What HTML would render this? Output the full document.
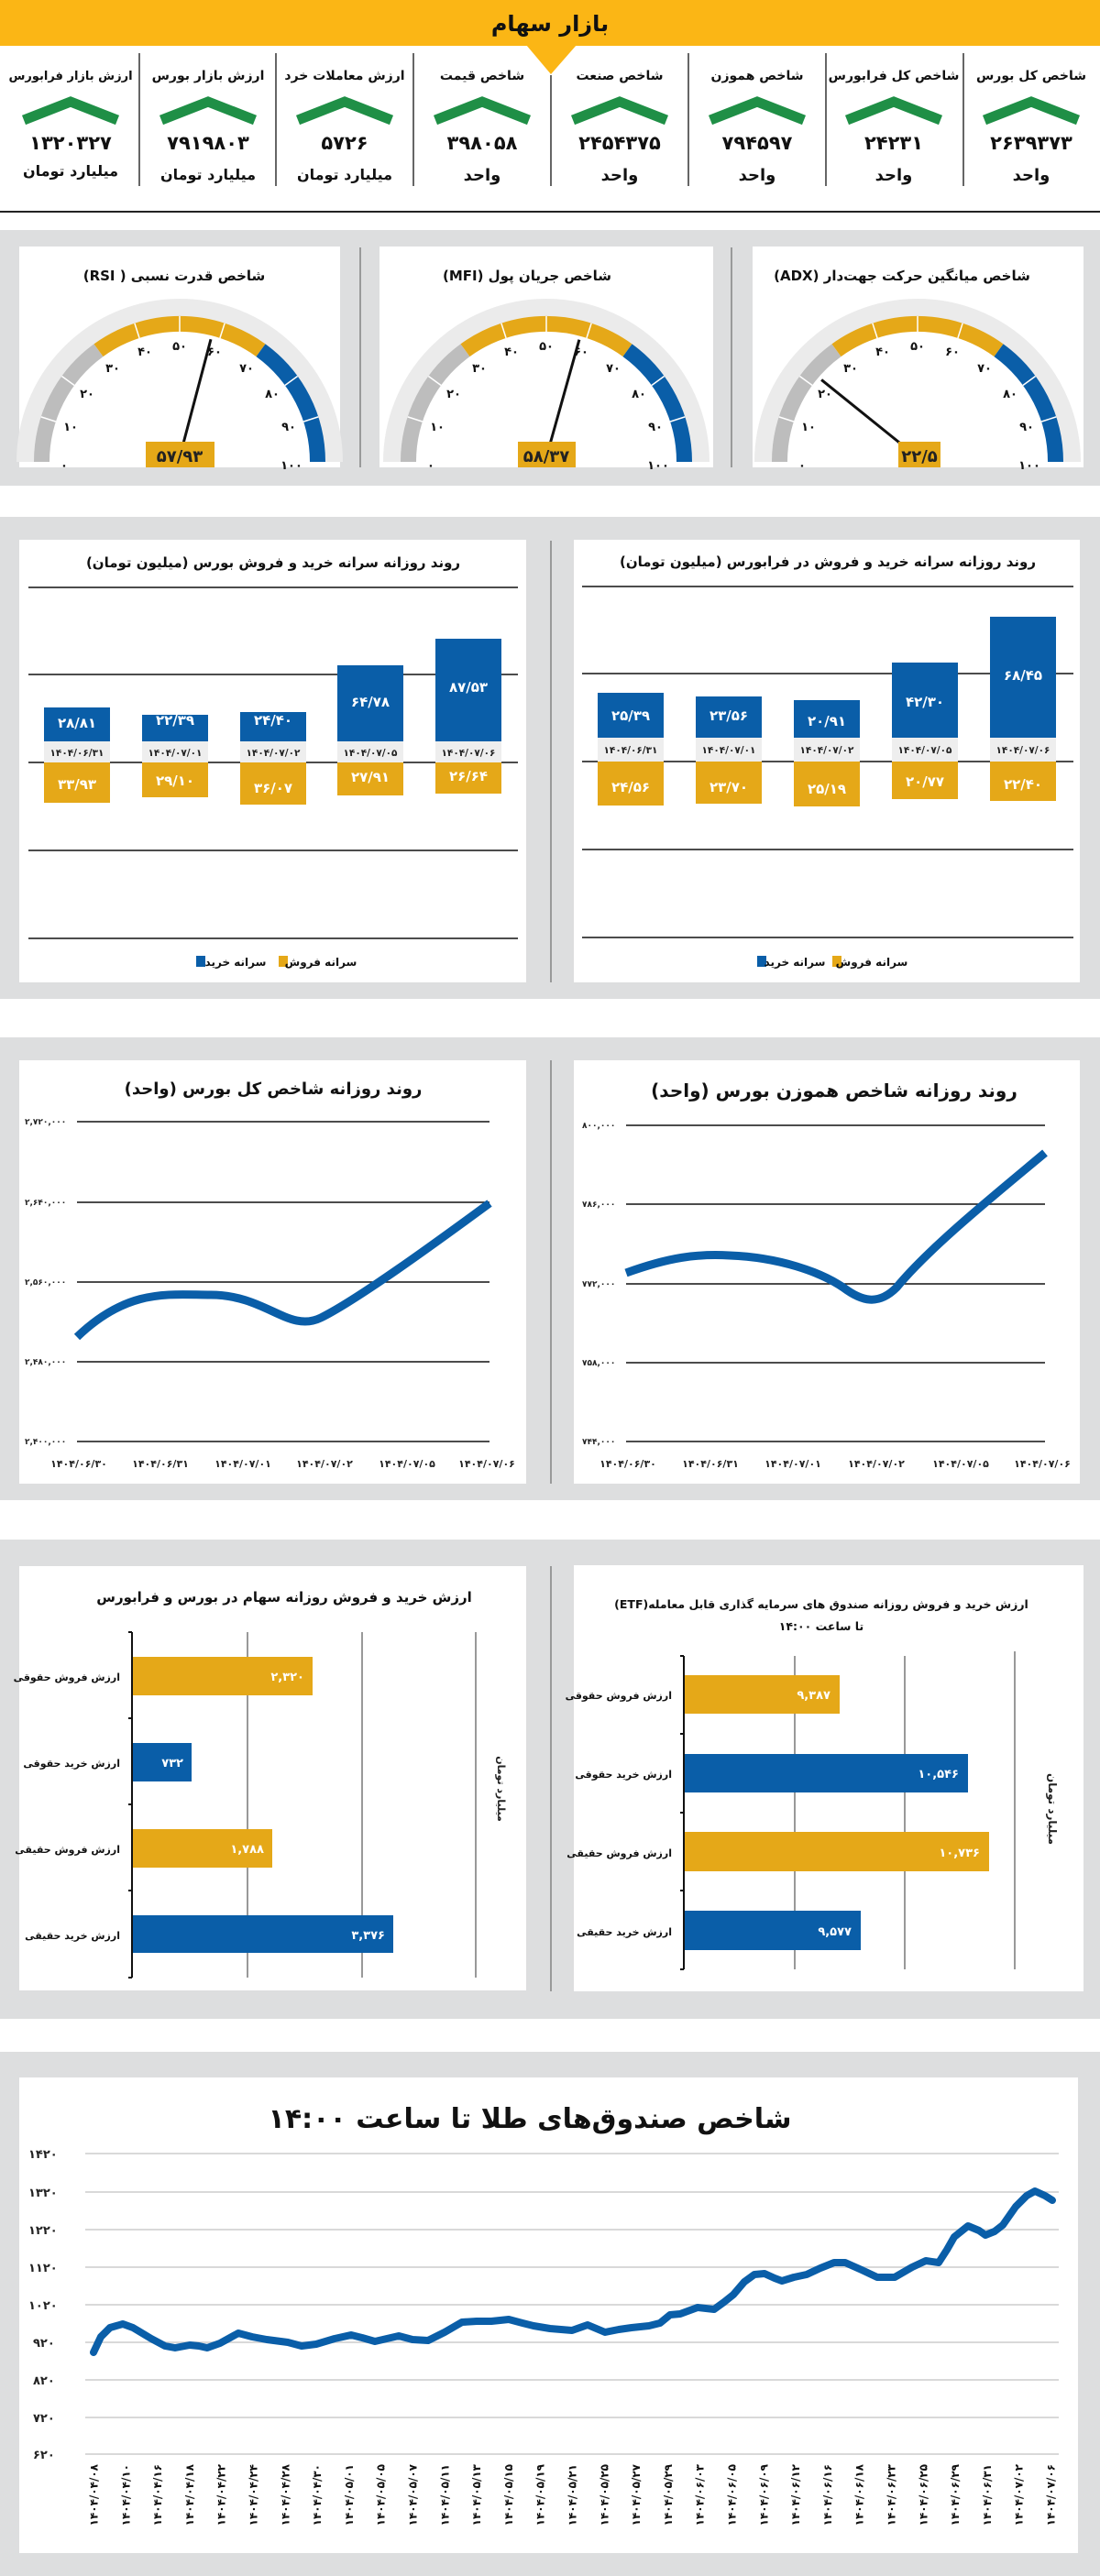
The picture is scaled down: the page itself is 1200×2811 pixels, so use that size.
<!DOCTYPE html>
<html><head><meta charset="utf-8">
<style>
html,body{margin:0;padding:0;background:#fff;}
svg{display:block;}
text{font-family:"DejaVu Sans","Liberation Sans",sans-serif;font-weight:bold;}
</style></head><body>
<svg width="1200" height="2811" viewBox="0 0 1200 2811" xmlns="http://www.w3.org/2000/svg">
<rect x="0" y="0" width="1200" height="50" fill="#fbb615"/>
<polygon points="574,49 629,49 601,81" fill="#fbb615"/>
<text x="600" y="34" font-size="24" text-anchor="middle" direction="rtl" fill="#111">بازار سهام</text>

<g stroke="#333" stroke-width="1.5">
<line x1="152" y1="58" x2="152" y2="203"/><line x1="301" y1="58" x2="301" y2="203"/><line x1="451" y1="58" x2="451" y2="203"/><line x1="601" y1="82" x2="601" y2="203"/><line x1="751" y1="58" x2="751" y2="203"/><line x1="901" y1="58" x2="901" y2="203"/><line x1="1051" y1="58" x2="1051" y2="203"/>
</g>
<line x1="0" y1="231" x2="1200" y2="231" stroke="#222" stroke-width="2"/>
<g font-size="14" text-anchor="middle" direction="rtl" fill="#111">
<text x="1125" y="87">شاخص کل بورس</text>
<text x="975" y="87">شاخص کل فرابورس</text>
<text x="826" y="87">شاخص هموزن</text>
<text x="676" y="87">شاخص صنعت</text>
<text x="526" y="87">شاخص قیمت</text>
<text x="376" y="87">ارزش معاملات خرد</text>
<text x="227" y="87">ارزش بازار بورس</text>
<text x="77" y="87" font-size="13">ارزش بازار فرابورس</text>
</g>
<g fill="none" stroke="#1f8f46" stroke-width="11" stroke-linejoin="miter">
<polyline points="1074,131 1125,111 1176,131"/>
<polyline points="924,131 975,111 1026,131"/>
<polyline points="775,131 826,111 877,131"/>
<polyline points="625,131 676,111 727,131"/>
<polyline points="475,131 526,111 577,131"/>
<polyline points="325,131 376,111 427,131"/>
<polyline points="176,131 227,111 278,131"/>
<polyline points="26,131 77,111 128,131"/>
</g>
<g font-size="21" text-anchor="middle" fill="#111">
<text x="1125" y="163">۲۶۳۹۳۷۳</text>
<text x="975" y="163">۲۴۲۳۱</text>
<text x="826" y="163">۷۹۴۵۹۷</text>
<text x="676" y="163">۲۴۵۴۳۷۵</text>
<text x="526" y="163">۳۹۸۰۵۸</text>
<text x="376" y="163">۵۷۲۶</text>
<text x="227" y="163">۷۹۱۹۸۰۳</text>
<text x="77" y="163">۱۳۲۰۳۲۷</text>
</g>
<g font-size="18" text-anchor="middle" direction="rtl" fill="#111">
<text x="1125" y="197">واحد</text>
<text x="975" y="197">واحد</text>
<text x="826" y="197">واحد</text>
<text x="676" y="197">واحد</text>
<text x="526" y="197">واحد</text>
<text x="376" y="196" font-size="16">میلیارد تومان</text>
<text x="227" y="196" font-size="16">میلیارد تومان</text>
<text x="77" y="192" font-size="16">میلیارد تومان</text>
</g>

<rect x="0" y="251" width="1200" height="279" fill="#dddedf"/>
<rect x="21" y="269" width="350" height="241" fill="#fff"/>
<rect x="414" y="269" width="364" height="241" fill="#fff"/>
<rect x="821" y="269" width="361" height="241" fill="#fff"/>
<line x1="393" y1="270" x2="393" y2="510" stroke="#555" stroke-width="1"/>
<line x1="798" y1="270" x2="798" y2="510" stroke="#555" stroke-width="1"/>
<g font-size="15" text-anchor="middle" direction="rtl" fill="#111">
<text x="190" y="306">شاخص قدرت نسبی ( RSI)</text>
<text x="575" y="306">شاخص جریان پول (MFI)</text>
<text x="984" y="306">شاخص میانگین حرکت جهت‌دار (ADX)</text>
</g>

<defs>
<g id="gauge">
<path d="M-168,0 A168,168 0 0 1 168,0" fill="none" stroke="#ebebeb" stroke-width="20"/>
<path d="M-150.5,0 A150.5,150.5 0 0 1 -88.5,-121.8" fill="none" stroke="#bdbdbd" stroke-width="17"/>
<path d="M-88.5,-121.8 A150.5,150.5 0 0 1 88.5,-121.8" fill="none" stroke="#e5a818" stroke-width="17"/>
<path d="M88.5,-121.8 A150.5,150.5 0 0 1 150.5,0" fill="none" stroke="#0a5ea8" stroke-width="17"/>
<g stroke="#fff" stroke-width="1.5">
<line x1="-135" y1="-43.9" x2="-151.2" y2="-49.1"/>
<line x1="-114.9" y1="-83.5" x2="-128.6" y2="-93.5"/>
<line x1="-43.9" y1="-135" x2="-49.1" y2="-151.2"/>
<line x1="0" y1="-142" x2="0" y2="-159"/>
<line x1="43.9" y1="-135" x2="49.1" y2="-151.2"/>
<line x1="114.9" y1="-83.5" x2="128.6" y2="-93.5"/>
<line x1="135" y1="-43.9" x2="151.2" y2="-49.1"/>
</g>
<g font-size="13" text-anchor="middle" fill="#111">
<text x="-126" y="8">۰</text>
<text x="-119" y="-34">۱۰</text>
<text x="-101" y="-70">۲۰</text>
<text x="-73" y="-98">۳۰</text>
<text x="-38" y="-116">۴۰</text>
<text x="0" y="-122">۵۰</text>
<text x="38" y="-116">۶۰</text>
<text x="73" y="-98">۷۰</text>
<text x="101" y="-70">۸۰</text>
<text x="119" y="-34">۹۰</text>
<text x="122" y="8">۱۰۰</text>
</g>
</g>
</defs>
<g transform="translate(196,504)">
<use href="#gauge"/>
<line x1="0" y1="-5" x2="34" y2="-133.7" stroke="#111" stroke-width="3"/>
<rect x="-37" y="-22" width="75" height="28" fill="#e5a818"/>
<text x="0" y="0" font-size="18" text-anchor="middle" fill="#222">۵۷/۹۳</text>
</g>
<g transform="translate(596,504)">
<use href="#gauge"/>
<line x1="0" y1="-5" x2="35.9" y2="-133.3" stroke="#111" stroke-width="3"/>
<rect x="-31" y="-22" width="63" height="28" fill="#e5a818"/>
<text x="0" y="0" font-size="18" text-anchor="middle" fill="#222">۵۸/۳۷</text>
</g>
<g transform="translate(1001,504)">
<use href="#gauge"/>
<line x1="0" y1="-5" x2="-104.9" y2="-89.6" stroke="#111" stroke-width="3"/>
<rect x="-21" y="-22" width="46" height="28" fill="#e5a818"/>
<text x="2" y="0" font-size="18" text-anchor="middle" fill="#222">۲۲/۵</text>
</g>

<rect x="0" y="564" width="1200" height="526" fill="#dddedf"/>
<rect x="21" y="589" width="553" height="483" fill="#fff"/>
<rect x="626" y="589" width="552" height="483" fill="#fff"/>
<line x1="601" y1="590" x2="601" y2="1072" stroke="#555" stroke-width="1"/>
<g font-size="15" text-anchor="middle" direction="rtl" fill="#111">
<text x="298" y="619">روند روزانه سرانه خرید و فروش بورس (میلیون تومان)</text>
<text x="903" y="618">روند روزانه سرانه خرید و فروش در فرابورس (میلیون تومان)</text>
</g>
<g stroke="#111" stroke-width="1.5">
<line x1="31" y1="641" x2="565" y2="641"/><line x1="31" y1="736" x2="565" y2="736"/><line x1="31" y1="832" x2="565" y2="832"/><line x1="31" y1="928" x2="565" y2="928"/><line x1="31" y1="1024" x2="565" y2="1024"/>
<line x1="635" y1="640" x2="1171" y2="640"/><line x1="635" y1="735" x2="1171" y2="735"/><line x1="635" y1="831" x2="1171" y2="831"/><line x1="635" y1="927" x2="1171" y2="927"/><line x1="635" y1="1023" x2="1171" y2="1023"/>
</g>
<g fill="#eeeeee">
<rect x="48" y="809" width="72" height="23"/><rect x="155" y="809" width="72" height="23"/><rect x="262" y="809" width="72" height="23"/><rect x="368" y="809" width="72" height="23"/><rect x="475" y="809" width="72" height="23"/>
<rect x="652" y="805" width="72" height="26"/><rect x="759" y="805" width="72" height="26"/><rect x="866" y="805" width="72" height="26"/><rect x="973" y="805" width="72" height="26"/><rect x="1080" y="805" width="72" height="26"/>
</g>
<g fill="#0a5ea8">
<rect x="48" y="772" width="72" height="37"/><rect x="155" y="780" width="72" height="29"/><rect x="262" y="777" width="72" height="32"/><rect x="368" y="726" width="72" height="83"/><rect x="475" y="697" width="72" height="112"/>
<rect x="652" y="756" width="72" height="49"/><rect x="759" y="760" width="72" height="45"/><rect x="866" y="764" width="72" height="41"/><rect x="973" y="723" width="72" height="82"/><rect x="1080" y="673" width="72" height="132"/>
</g>
<g fill="#e5a818">
<rect x="48" y="832" width="72" height="44"/><rect x="155" y="832" width="72" height="38"/><rect x="262" y="832" width="72" height="46"/><rect x="368" y="832" width="72" height="36"/><rect x="475" y="832" width="72" height="34"/>
<rect x="652" y="831" width="72" height="48"/><rect x="759" y="831" width="72" height="46"/><rect x="866" y="831" width="72" height="49"/><rect x="973" y="831" width="72" height="41"/><rect x="1080" y="831" width="72" height="43"/>
</g>
<g font-size="15" text-anchor="middle" fill="#fff" direction="ltr">
<text x="84" y="794">۲۸/۸۱</text><text x="191" y="791">۲۲/۳۹</text><text x="298" y="791">۲۴/۴۰</text><text x="404" y="771">۶۴/۷۸</text><text x="511" y="755">۸۷/۵۳</text>
<text x="84" y="861">۳۳/۹۳</text><text x="191" y="857">۲۹/۱۰</text><text x="298" y="865">۳۶/۰۷</text><text x="404" y="853">۲۷/۹۱</text><text x="511" y="852">۲۶/۶۴</text>
<text x="688" y="786">۲۵/۳۹</text><text x="795" y="786">۲۳/۵۶</text><text x="902" y="792">۲۰/۹۱</text><text x="1009" y="771">۴۲/۳۰</text><text x="1116" y="742">۶۸/۴۵</text>
<text x="688" y="864">۲۴/۵۶</text><text x="795" y="864">۲۳/۷۰</text><text x="902" y="866">۲۵/۱۹</text><text x="1009" y="858">۲۰/۷۷</text><text x="1116" y="861">۲۲/۴۰</text>
</g>
<g font-size="10.5" text-anchor="middle" fill="#222" direction="ltr">
<text x="84" y="825">۱۴۰۴/۰۶/۳۱</text><text x="191" y="825">۱۴۰۴/۰۷/۰۱</text><text x="298" y="825">۱۴۰۴/۰۷/۰۲</text><text x="404" y="825">۱۴۰۴/۰۷/۰۵</text><text x="511" y="825">۱۴۰۴/۰۷/۰۶</text>
<text x="688" y="822">۱۴۰۴/۰۶/۳۱</text><text x="795" y="822">۱۴۰۴/۰۷/۰۱</text><text x="902" y="822">۱۴۰۴/۰۷/۰۲</text><text x="1009" y="822">۱۴۰۴/۰۷/۰۵</text><text x="1116" y="822">۱۴۰۴/۰۷/۰۶</text>
</g>
<rect x="214" y="1043" width="10" height="12" fill="#0a5ea8"/><rect x="304" y="1043" width="10" height="12" fill="#e5a818"/>
<rect x="826" y="1043" width="10" height="12" fill="#0a5ea8"/><rect x="908" y="1043" width="10" height="12" fill="#e5a818"/>
<g font-size="12" direction="rtl" fill="#111" text-anchor="middle">
<text x="257" y="1054">سرانه خرید</text><text x="350" y="1054">سرانه فروش</text>
<text x="867" y="1054">سرانه خرید</text><text x="951" y="1054">سرانه فروش</text>
</g>

<rect x="0" y="1132" width="1200" height="505" fill="#dddedf"/>
<rect x="21" y="1157" width="553" height="462" fill="#fff"/>
<rect x="626" y="1157" width="552" height="462" fill="#fff"/>
<line x1="601" y1="1157" x2="601" y2="1619" stroke="#555" stroke-width="1"/>
<text x="298" y="1194" font-size="18" text-anchor="middle" direction="rtl" fill="#111">روند روزانه شاخص کل بورس (واحد)</text>
<text x="910" y="1197" font-size="20" text-anchor="middle" direction="rtl" fill="#111">روند روزانه شاخص هموزن بورس (واحد)</text>
<g stroke="#111" stroke-width="1.5">
<line x1="84" y1="1224" x2="534" y2="1224"/><line x1="84" y1="1312" x2="534" y2="1312"/><line x1="84" y1="1399" x2="534" y2="1399"/><line x1="84" y1="1486" x2="534" y2="1486"/><line x1="84" y1="1573" x2="534" y2="1573"/>
<line x1="683" y1="1228" x2="1140" y2="1228"/><line x1="683" y1="1314" x2="1140" y2="1314"/><line x1="683" y1="1401" x2="1140" y2="1401"/><line x1="683" y1="1487" x2="1140" y2="1487"/><line x1="683" y1="1573" x2="1140" y2="1573"/>
</g>
<g font-size="9" fill="#222" direction="ltr">
<text x="27" y="1227">۲,۷۲۰,۰۰۰</text><text x="27" y="1315">۲,۶۴۰,۰۰۰</text><text x="27" y="1402">۲,۵۶۰,۰۰۰</text><text x="27" y="1489">۲,۴۸۰,۰۰۰</text><text x="27" y="1576">۲,۴۰۰,۰۰۰</text>
<text x="635" y="1231">۸۰۰,۰۰۰</text><text x="635" y="1317">۷۸۶,۰۰۰</text><text x="635" y="1404">۷۷۲,۰۰۰</text><text x="635" y="1490">۷۵۸,۰۰۰</text><text x="635" y="1576">۷۴۴,۰۰۰</text>
</g>
<g font-size="11" text-anchor="middle" fill="#222" direction="ltr">
<text x="86" y="1601">۱۴۰۴/۰۶/۳۰</text><text x="175" y="1601">۱۴۰۴/۰۶/۳۱</text><text x="265" y="1601">۱۴۰۴/۰۷/۰۱</text><text x="354" y="1601">۱۴۰۴/۰۷/۰۲</text><text x="444" y="1601">۱۴۰۴/۰۷/۰۵</text><text x="531" y="1601">۱۴۰۴/۰۷/۰۶</text>
<text x="685" y="1601">۱۴۰۴/۰۶/۳۰</text><text x="775" y="1601">۱۴۰۴/۰۶/۳۱</text><text x="865" y="1601">۱۴۰۴/۰۷/۰۱</text><text x="956" y="1601">۱۴۰۴/۰۷/۰۲</text><text x="1048" y="1601">۱۴۰۴/۰۷/۰۵</text><text x="1137" y="1601">۱۴۰۴/۰۷/۰۶</text>
</g>
<path d="M84,1459 C140,1405 185,1413 230,1413 C290,1413 315,1455 350,1438 C390,1418 470,1360 534,1313" fill="none" stroke="#0a5ea8" stroke-width="9"/>
<path d="M683,1389 C730,1372 760,1368 796,1370 C850,1372 895,1388 920,1405 C940,1420 958,1425 978,1405 C1015,1360 1090,1300 1140,1258" fill="none" stroke="#0a5ea8" stroke-width="9"/>

<rect x="0" y="1680" width="1200" height="523" fill="#dddedf"/>
<rect x="21" y="1709" width="553" height="463" fill="#fff"/>
<rect x="626" y="1708" width="556" height="465" fill="#fff"/>
<line x1="601" y1="1709" x2="601" y2="2173" stroke="#555" stroke-width="1"/>
<text x="310" y="1748" font-size="15" text-anchor="middle" direction="rtl" fill="#111">ارزش خرید و فروش روزانه سهام در بورس و فرابورس</text>
<text x="896" y="1755" font-size="12.5" text-anchor="middle" direction="rtl" fill="#111">ارزش خرید و فروش روزانه صندوق های سرمایه گذاری قابل معامله(ETF)</text>
<text x="896" y="1779" font-size="12.5" text-anchor="middle" direction="rtl" fill="#111">تا ساعت ۱۴:۰۰</text>
<g stroke="#333" stroke-width="1">
<line x1="270" y1="1781" x2="270" y2="2158"/><line x1="395" y1="1781" x2="395" y2="2158"/><line x1="519" y1="1781" x2="519" y2="2158"/>
<line x1="867" y1="1807" x2="867" y2="2149"/><line x1="987" y1="1807" x2="987" y2="2149"/><line x1="1107" y1="1802" x2="1107" y2="2149"/>
</g>
<g stroke="#111" stroke-width="2">
<line x1="144" y1="1781" x2="144" y2="2158"/>
<line x1="140" y1="1781" x2="144" y2="1781"/><line x1="140" y1="1875" x2="144" y2="1875"/><line x1="140" y1="1969" x2="144" y2="1969"/><line x1="140" y1="2063" x2="144" y2="2063"/><line x1="140" y1="2158" x2="144" y2="2158"/>
<line x1="746" y1="1807" x2="746" y2="2149"/>
<line x1="742" y1="1807" x2="746" y2="1807"/><line x1="742" y1="1892" x2="746" y2="1892"/><line x1="742" y1="1978" x2="746" y2="1978"/><line x1="742" y1="2063" x2="746" y2="2063"/><line x1="742" y1="2149" x2="746" y2="2149"/>
</g>
<rect x="145" y="1808" width="196" height="42" fill="#e5a818"/>
<rect x="145" y="1902" width="64" height="42" fill="#0a5ea8"/>
<rect x="145" y="1996" width="152" height="42" fill="#e5a818"/>
<rect x="145" y="2090" width="284" height="41" fill="#0a5ea8"/>
<rect x="747" y="1828" width="169" height="42" fill="#e5a818"/>
<rect x="747" y="1914" width="309" height="42" fill="#0a5ea8"/>
<rect x="747" y="1999" width="332" height="43" fill="#e5a818"/>
<rect x="747" y="2085" width="192" height="43" fill="#0a5ea8"/>
<g font-size="13" text-anchor="end" fill="#fff">
<text x="332" y="1834">۲,۳۲۰</text><text x="200" y="1928">۷۳۲</text><text x="288" y="2022">۱,۷۸۸</text><text x="420" y="2116">۳,۳۷۶</text>
<text x="906" y="1854">۹,۳۸۷</text><text x="1046" y="1940">۱۰,۵۴۶</text><text x="1069" y="2026">۱۰,۷۳۶</text><text x="929" y="2112">۹,۵۷۷</text>
</g>
<g font-size="11" text-anchor="end" fill="#111">
<text x="131" y="1834">ارزش فروش حقوقی</text><text x="131" y="1928">ارزش خرید حقوقی</text><text x="131" y="2022">ارزش فروش حقیقی</text><text x="131" y="2116">ارزش خرید حقیقی</text>
</g>
<g font-size="11" text-anchor="end" fill="#111">
<text x="733" y="1854">ارزش فروش حقوقی</text><text x="733" y="1940">ارزش خرید حقوقی</text><text x="733" y="2026">ارزش فروش حقیقی</text><text x="733" y="2112">ارزش خرید حقیقی</text>
</g>
<text transform="translate(543,1952) rotate(90)" font-size="11" text-anchor="middle" fill="#222">میلیارد تومان</text>
<text transform="translate(1144,1974) rotate(90)" font-size="12" text-anchor="middle" fill="#222">میلیارد تومان</text>

<rect x="0" y="2239" width="1200" height="572" fill="#dddedf"/>
<rect x="21" y="2267" width="1155" height="519" fill="#fff"/>
<text x="578" y="2322" font-size="30" text-anchor="middle" direction="rtl" fill="#111">شاخص صندوق‌های طلا تا ساعت ۱۴:۰۰</text>
<g stroke="#d9d9d9" stroke-width="2">
<line x1="93" y1="2350" x2="1155" y2="2350"/><line x1="93" y1="2392" x2="1155" y2="2392"/><line x1="93" y1="2433" x2="1155" y2="2433"/><line x1="93" y1="2474" x2="1155" y2="2474"/><line x1="93" y1="2515" x2="1155" y2="2515"/><line x1="93" y1="2556" x2="1155" y2="2556"/><line x1="93" y1="2597" x2="1155" y2="2597"/><line x1="93" y1="2638" x2="1155" y2="2638"/><line x1="93" y1="2678" x2="1155" y2="2678"/>
</g>
<g font-size="13" fill="#222" direction="ltr">
<text x="31" y="2355">۱۴۲۰</text><text x="31" y="2397">۱۳۲۰</text><text x="31" y="2438">۱۲۲۰</text><text x="31" y="2479">۱۱۲۰</text><text x="31" y="2520">۱۰۲۰</text><text x="36" y="2561">۹۲۰</text><text x="36" y="2602">۸۲۰</text><text x="36" y="2643">۷۲۰</text><text x="36" y="2683">۶۲۰</text>
</g>
<polyline points="102,2567 110,2550 120,2540 134,2536 145,2540 165,2552 180,2560 191,2562 207,2559 217,2560 226,2562 240,2557 260,2546 275,2550 291,2553 314,2556 329,2560 345,2558 365,2552 383,2548 395,2551 409,2555 422,2552 435,2549 450,2553 467,2554 485,2545 504,2534 520,2533 536,2533 555,2531 570,2535 582,2538 600,2541 624,2543 641,2537 660,2545 675,2542 689,2540 708,2538 720,2535 731,2526 742,2525 761,2518 779,2520 790,2512 800,2504 812,2490 823,2482 834,2481 845,2486 853,2489 866,2485 880,2482 895,2475 910,2469 922,2469 940,2477 957,2485 976,2485 995,2474 1010,2467 1024,2469 1033,2455 1041,2441 1056,2429 1068,2434 1075,2439 1085,2435 1094,2428 1108,2408 1120,2396 1129,2391 1140,2396 1148,2401" fill="none" stroke="#0a5ea8" stroke-width="8" stroke-linejoin="round" stroke-linecap="round"/>
<g font-size="12" text-anchor="end" fill="#111" direction="ltr">
<text transform="translate(103,2689) rotate(-90)" dominant-baseline="middle">۱۴۰۴/۰۴/۰۸</text>
<text transform="translate(137.8,2689) rotate(-90)" dominant-baseline="middle">۱۴۰۴/۰۴/۱۰</text>
<text transform="translate(172.6,2689) rotate(-90)" dominant-baseline="middle">۱۴۰۴/۰۴/۱۶</text>
<text transform="translate(207.4,2689) rotate(-90)" dominant-baseline="middle">۱۴۰۴/۰۴/۱۸</text>
<text transform="translate(242.2,2689) rotate(-90)" dominant-baseline="middle">۱۴۰۴/۰۴/۲۲</text>
<text transform="translate(277,2689) rotate(-90)" dominant-baseline="middle">۱۴۰۴/۰۴/۲۴</text>
<text transform="translate(311.8,2689) rotate(-90)" dominant-baseline="middle">۱۴۰۴/۰۴/۲۸</text>
<text transform="translate(346.6,2689) rotate(-90)" dominant-baseline="middle">۱۴۰۴/۰۴/۳۰</text>
<text transform="translate(381.4,2689) rotate(-90)" dominant-baseline="middle">۱۴۰۴/۰۵/۰۱</text>
<text transform="translate(416.2,2689) rotate(-90)" dominant-baseline="middle">۱۴۰۴/۰۵/۰۵</text>
<text transform="translate(451,2689) rotate(-90)" dominant-baseline="middle">۱۴۰۴/۰۵/۰۷</text>
<text transform="translate(485.8,2689) rotate(-90)" dominant-baseline="middle">۱۴۰۴/۰۵/۱۱</text>
<text transform="translate(520.6,2689) rotate(-90)" dominant-baseline="middle">۱۴۰۴/۰۵/۱۳</text>
<text transform="translate(555.4,2689) rotate(-90)" dominant-baseline="middle">۱۴۰۴/۰۵/۱۵</text>
<text transform="translate(590.2,2689) rotate(-90)" dominant-baseline="middle">۱۴۰۴/۰۵/۱۹</text>
<text transform="translate(625,2689) rotate(-90)" dominant-baseline="middle">۱۴۰۴/۰۵/۲۱</text>
<text transform="translate(659.8,2689) rotate(-90)" dominant-baseline="middle">۱۴۰۴/۰۵/۲۵</text>
<text transform="translate(694.6,2689) rotate(-90)" dominant-baseline="middle">۱۴۰۴/۰۵/۲۷</text>
<text transform="translate(729.4,2689) rotate(-90)" dominant-baseline="middle">۱۴۰۴/۰۵/۲۹</text>
<text transform="translate(764.2,2689) rotate(-90)" dominant-baseline="middle">۱۴۰۴/۰۶/۰۳</text>
<text transform="translate(799,2689) rotate(-90)" dominant-baseline="middle">۱۴۰۴/۰۶/۰۵</text>
<text transform="translate(833.8,2689) rotate(-90)" dominant-baseline="middle">۱۴۰۴/۰۶/۰۹</text>
<text transform="translate(868.6,2689) rotate(-90)" dominant-baseline="middle">۱۴۰۴/۰۶/۱۲</text>
<text transform="translate(903.4,2689) rotate(-90)" dominant-baseline="middle">۱۴۰۴/۰۶/۱۶</text>
<text transform="translate(938.2,2689) rotate(-90)" dominant-baseline="middle">۱۴۰۴/۰۶/۱۸</text>
<text transform="translate(973,2689) rotate(-90)" dominant-baseline="middle">۱۴۰۴/۰۶/۲۳</text>
<text transform="translate(1007.8,2689) rotate(-90)" dominant-baseline="middle">۱۴۰۴/۰۶/۲۵</text>
<text transform="translate(1042.6,2689) rotate(-90)" dominant-baseline="middle">۱۴۰۴/۰۶/۲۹</text>
<text transform="translate(1077.4,2689) rotate(-90)" dominant-baseline="middle">۱۴۰۴/۰۶/۳۱</text>
<text transform="translate(1112.2,2689) rotate(-90)" dominant-baseline="middle">۱۴۰۴/۰۷/۰۲</text>
<text transform="translate(1147,2689) rotate(-90)" dominant-baseline="middle">۱۴۰۴/۰۷/۰۶</text>
</g>
</svg>
</body></html>
